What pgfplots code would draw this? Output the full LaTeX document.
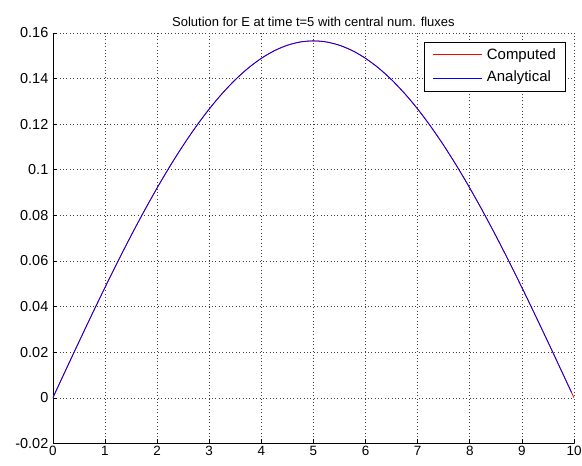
\documentclass[border=0pt]{standalone}
\usepackage{fontspec}
\setmainfont{Liberation Sans}
\usepackage{pgfplots}
\pgfplotsset{compat=1.18}
\begin{document}
\begin{tikzpicture}
\useasboundingbox (-53pt,-22pt) rectangle (531pt,445pt);
\begin{axis}[
  scale only axis, width=523pt, height=412pt,
  at={(0,0)}, anchor=south west,
  xmin=0, xmax=10, ymin=-0.02, ymax=0.16,
  axis lines=left, axis line style={-, line width=0.6pt},
  tick align=inside, major tick length=4pt,
  tick style={black, line width=0.6pt},
  xtick={0,1,...,10},
  ytick={-0.02,0,0.02,0.04,0.06,0.08,0.1,0.12,0.14,0.16},
  yticklabels={-0.02,0,0.02,0.04,0.06,0.08,0.1,0.12,0.14,0.16},
  grid=major,
  major grid style={black!75, line width=0.6pt, dash pattern=on 0.8pt off 2.6pt},
  font=\fontsize{14.5}{16}\selectfont,
  xticklabel style={yshift=1pt, font=\fontsize{13.5}{15}\selectfont},
  yticklabel style={xshift=-1pt},
  /pgf/number format/assume math mode=true,
  title={Solution for E at time t=5 with central num. fluxes},
  title style={font=\fontsize{13}{15}\selectfont, yshift=-3pt},
  legend style={at={(rel axis cs:0.9828,0.978)}, anchor=north east, fill=white,
    font=\fontsize{15}{16}\selectfont, row sep=9pt, column sep=4pt, inner xsep=9pt, inner ysep=6pt,
    nodes={inner sep=0pt, text height=11pt, text depth=3pt}},
  legend cell align=left,
]
\addplot[red, line width=0.8pt, smooth,
  legend image code/.code={\draw[red, line width=1pt] (0cm,0.5pt) -- (1.73cm,0.5pt);}] coordinates {
(0,0) (0.25,0.01228) (0.5,0.02448) (0.75,0.03653) (1,0.04836) (1.25,0.05989) (1.5,0.07105) (1.75,0.08177)
(2,0.09199) (2.25,0.10164) (2.5,0.11066) (2.75,0.11900) (3,0.12661) (3.25,0.13344) (3.5,0.13944) (3.75,0.14459)
(4,0.14884) (4.25,0.15218) (4.5,0.15457) (4.75,0.15602) (5,0.1565)
(5.25,0.15602) (5.5,0.15457) (5.75,0.15218) (6,0.14884) (6.25,0.14459) (6.5,0.13944) (6.75,0.13344) (7,0.12661)
(7.25,0.11900) (7.5,0.11066) (7.75,0.10164) (8,0.09199) (8.25,0.08177) (8.5,0.07105) (8.75,0.05989) (9,0.04836)
(9.25,0.03653) (9.5,0.02448) (9.75,0.01228) (10,0)
};
\addlegendentry{Computed}
\addplot[blue, line width=0.8pt, smooth,
  legend image code/.code={\draw[blue, line width=1pt] (0cm,0pt) -- (1.73cm,0pt);}] coordinates {
(0,0) (0.25,0.01228) (0.5,0.02448) (0.75,0.03653) (1,0.04836) (1.25,0.05989) (1.5,0.07105) (1.75,0.08177)
(2,0.09199) (2.25,0.10164) (2.5,0.11066) (2.75,0.11900) (3,0.12661) (3.25,0.13344) (3.5,0.13944) (3.75,0.14459)
(4,0.14884) (4.25,0.15218) (4.5,0.15457) (4.75,0.15602) (5,0.1565)
(5.25,0.15602) (5.5,0.15457) (5.75,0.15218) (6,0.14884) (6.25,0.14459) (6.5,0.13944) (6.75,0.13344) (7,0.12661)
(7.25,0.11900) (7.5,0.11066) (7.75,0.10164) (8,0.09199) (8.25,0.08177) (8.5,0.07105) (8.75,0.05989) (9,0.04836)
(9.25,0.03653) (9.5,0.02448) (9.75,0.01228) (9.95,0.00246)
};
\addlegendentry{Analytical}
\end{axis}
\end{tikzpicture}
\end{document}
